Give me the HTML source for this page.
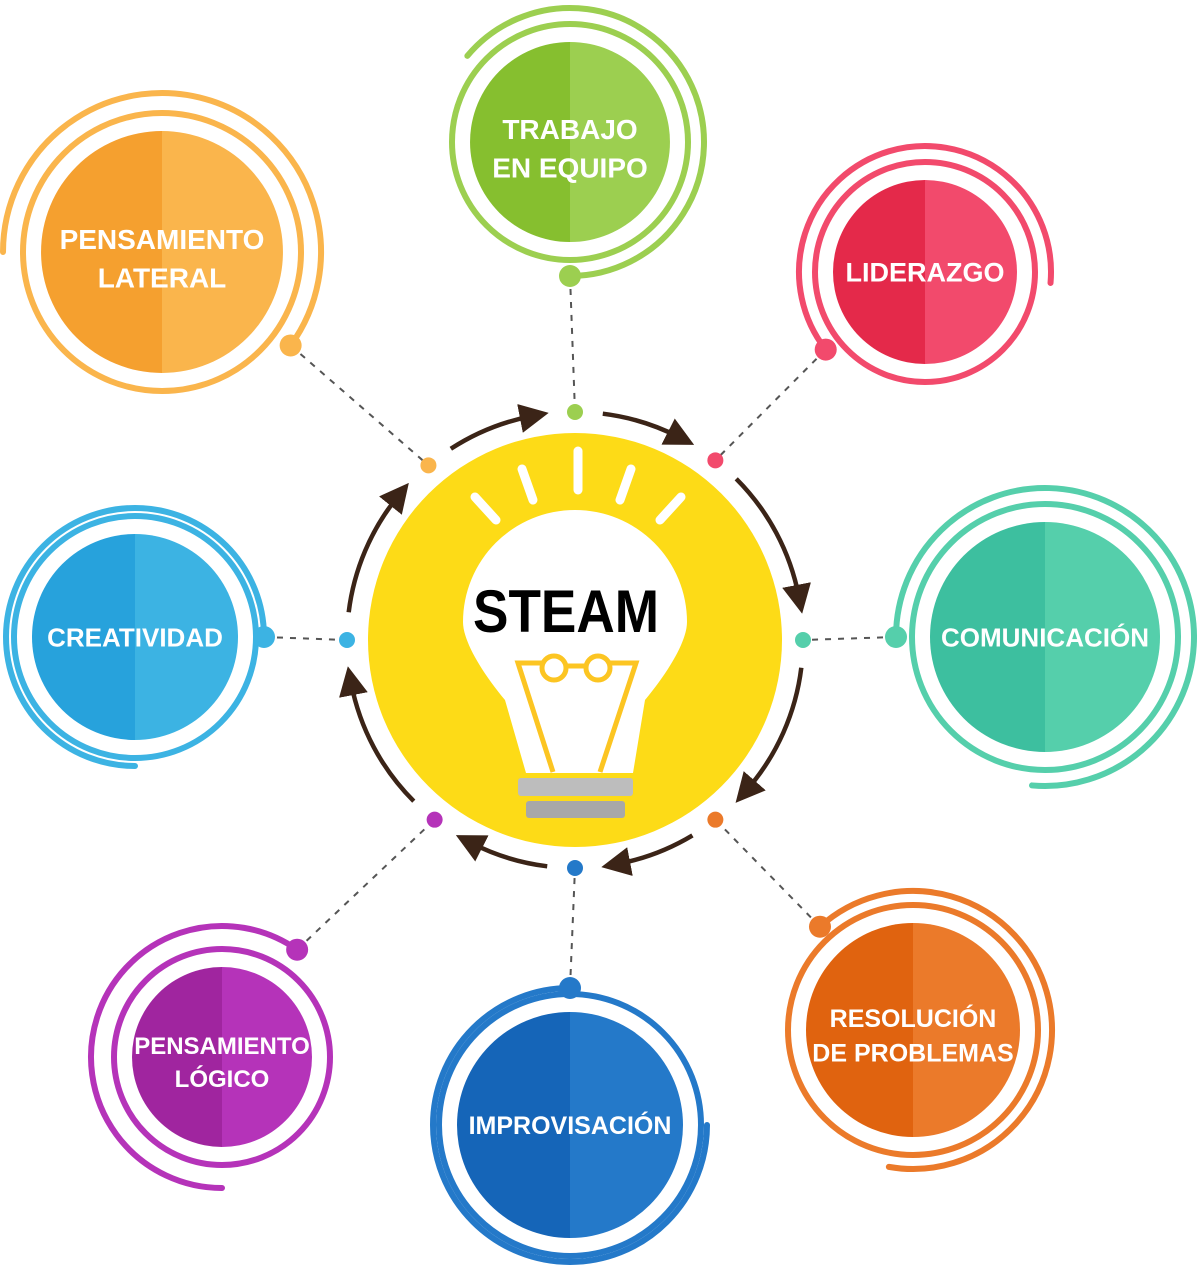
<!DOCTYPE html>
<html><head><meta charset="utf-8"><style>
html,body{margin:0;padding:0;background:#fff;}
svg{display:block;}
text{font-family:"Liberation Sans",sans-serif;font-weight:bold;}
</style></head><body>
<svg id="g" width="1197" height="1280" viewBox="0 0 1197 1280">
<defs>
<marker id="ah" viewBox="0 0 10 10" refX="4" refY="5" markerWidth="6.5" markerHeight="6.5" orient="auto" markerUnits="strokeWidth">
<path d="M0,0 L10,5 L0,10 z" fill="#3b2417"/></marker>
</defs>
<g id="links"></g>
<g id="arrows"></g>
<circle cx="575" cy="640" r="207" fill="#fddb17"/>
<g>
<path d="M526,773 L505,700 C480,670 463,640 463,622 A112,112 0 1 1 687,622 C687,640 670,670 645,700 L633,773 Z" fill="#fff"/>
<g stroke="#fff" stroke-width="9" stroke-linecap="round">
<line x1="578" y1="451" x2="578" y2="490"/>
<line x1="522" y1="469" x2="533" y2="500"/>
<line x1="631" y1="469" x2="620" y2="500"/>
<line x1="475" y1="497" x2="496" y2="520"/>
<line x1="681" y1="497" x2="660" y2="520"/>
</g>
<g fill="none" stroke="#fcc522" stroke-width="5">
<polyline points="553,772 518,663 542,663"/>
<polyline points="600,772 636,663 610,663"/>
<circle cx="554" cy="668" r="12"/><circle cx="598" cy="668" r="12"/>
<line x1="566" y1="666" x2="586" y2="666"/>
</g>
<rect x="518" y="778" width="115" height="18" rx="3" fill="#bdbdbd"/>
<rect x="526" y="801" width="99" height="17" rx="3" fill="#a8a8a8"/>
<text x="566" y="632" font-size="60" text-anchor="middle" textLength="186" lengthAdjust="spacingAndGlyphs" fill="#000">STEAM</text>
</g>
<g id="nodes"></g>
</svg>
<script>
const labels1=["PENSAMIENTO","TRABAJO","LIDERAZGO","COMUNICACIÓN","RESOLUCIÓN","IMPROVISACIÓN","PENSAMIENTO","CREATIVIDAD"];
const labels2=["LATERAL","EN EQUIPO","","","DE PROBLEMAS","","LÓGICO",""];
const darkColors=["#f5a02f","#86bf2f","#e4294a","#3dbf9f","#e0630f","#1565b8","#a0259f","#27a2dc"];
const lightColors=["#fab54c","#9ccf50","#f24a6c","#55cfab","#eb7a2a","#2479c9","#b533b9","#3cb3e3"];
const cxs=[162,570,925,1045,913,570,222,135];
const cys=[252,142,272,637,1030,1125,1057,637];
const radii=[121,100,92,115,107,113,90,103];
const outerR=[159,134,126,149,139,137,131,129];
const dotAng=[36,90,142,180,228,270,305,0];
const arcStart=[180,-140,142,180,228,0,90,90];
const arcEnd=[396,90,365,455,460,270,305,360];
const hubAng=[230,270,308,360,412,450,488,540];
const fontSizes=[28,28,27,26,25,25,24,26];
const NS="http://www.w3.org/2000/svg";
const CX=575,CY=640,HUB=228;
function mk(t,a,p){const e=document.createElementNS(NS,t);for(const k in a)e.setAttribute(k,a[k]);p.appendChild(e);return e;}
function pt(cx,cy,r,a){const t=a*Math.PI/180;return [cx+r*Math.cos(t),cy+r*Math.sin(t)];}
function arc(cx,cy,r,a0,a1){const p0=pt(cx,cy,r,a0),p1=pt(cx,cy,r,a1);const lg=(a1-a0)>180?1:0;return `M${p0[0]},${p0[1]} A${r},${r} 0 ${lg} 1 ${p1[0]},${p1[1]}`;}
const links=document.getElementById('links'),arrows=document.getElementById('arrows'),nodes=document.getElementById('nodes');
for(let i=0;i<8;i++){
  const hp=pt(CX,CY,HUB,hubAng[i]);
  const dp=pt(cxs[i],cys[i],outerR[i],dotAng[i]);
  const ln=mk('line',{x1:dp[0],y1:dp[1],x2:hp[0],y2:hp[1],stroke:'#555','stroke-width':2,'stroke-dasharray':'6 7'},links);
  
  
  const nextA=i<7?hubAng[i+1]:hubAng[0]+360;
  const a0=hubAng[i]+7,a1=nextA-11;
  const ar=mk('path',{d:arc(CX,CY,HUB,a0,a1),fill:'none',stroke:'#3b2417','stroke-width':4.5,'marker-end':'url(#ah)'},arrows);
  
  
  const hd=mk('circle',{cx:hp[0],cy:hp[1],r:8,fill:lightColors[i]},arrows);
  
  
  const g=mk('g',{},nodes);
  
  
  const cx=cxs[i],cy=cys[i],r=radii[i];
  mk('path',{d:`M${cx},${cy-r} A${r},${r} 0 0 0 ${cx},${cy+r} Z`,fill:darkColors[i]},g);
  mk('path',{d:`M${cx},${cy-r} A${r},${r} 0 0 1 ${cx},${cy+r} Z`,fill:lightColors[i]},g);
  const ring=mk('circle',{cx:cx,cy:cy,r:r+18,fill:'none',stroke:lightColors[i],'stroke-width':6},g);
  
  
  const oa=mk('path',{d:arc(cx,cy,outerR[i],arcStart[i],arcEnd[i]),fill:'none',stroke:lightColors[i],'stroke-width':6,'stroke-linecap':'round'},g);
  
  
  const nd=mk('circle',{cx:dp[0],cy:dp[1],r:11,fill:lightColors[i]},g);
  
  
  const fs=fontSizes[i];
  const two=labels2[i]!=="";
  const y1=two?cy-3:cy+fs*0.36;
  const t1=mk('text',{x:cx,y:y1,'font-size':fs,'text-anchor':'middle',fill:'#fff'},g);
  t1.textContent=labels1[i];
  
  
  if(two){
    const t2=mk('text',{x:cx,y:y1+fs*1.38,'font-size':fs,'text-anchor':'middle',fill:'#fff'},g);
    t2.textContent=labels2[i];
    
    
  }
}
</script>
</body></html>
